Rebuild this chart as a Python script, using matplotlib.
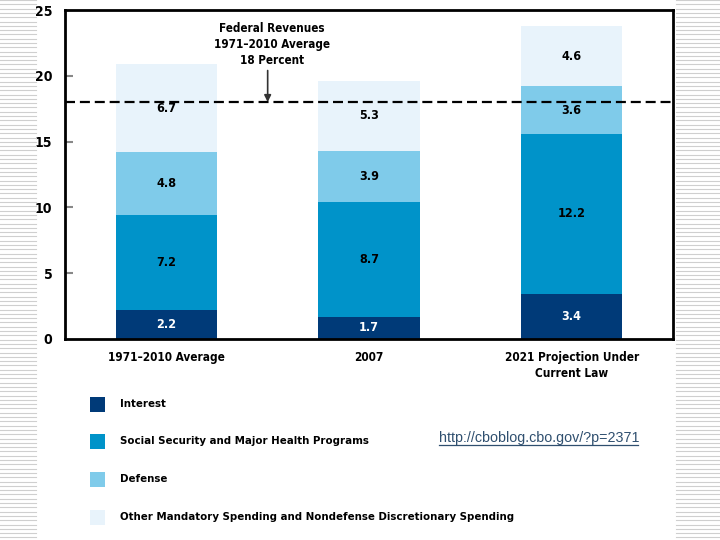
import matplotlib.pyplot as plt
import matplotlib
from matplotlib.lines import Line2D
from matplotlib.patches import Rectangle

matplotlib.rcParams['font.family'] = ['DejaVu Sans']
matplotlib.rcParams['font.stretch'] = 'condensed'

# ── data ──
categories = ['1971\u20132010 Average', '2007', '2021 Projection Under\nCurrent Law']
interest = [2.2, 1.7, 3.4]
social_health = [7.2, 8.7, 12.2]
defense = [4.8, 3.9, 3.6]
other = [6.7, 5.3, 4.6]
revenue_avg = 18

series = [
    ('Interest', interest, '#003A78', 'white'),
    ('Social Security and Major Health Programs', social_health, '#0093C9', 'black'),
    ('Defense', defense, '#7FCBEA', 'black'),
    ('Other Mandatory Spending and Nondefense Discretionary Spending', other, '#E8F3FB', 'black'),
]

fig = plt.figure(figsize=(7.2, 5.4), dpi=100)

# striped side margins
for x0, x1 in [(0, 36 / 720), (676 / 720, 1.0)]:
    y = 1.0
    while y > 0:
        fig.add_artist(Line2D([x0, x1], [y, y], color='#cfcfcf', linewidth=0.8))
        y -= 4.3 / 540

ax = fig.add_axes([65 / 720, (540 - 339) / 540, (673 - 65) / 720, (339 - 10) / 540])

x = range(len(categories))
bottom = [0] * len(categories)
for name, vals, color, tcolor in series:
    ax.bar(x, vals, 0.5, bottom=bottom, color=color, edgecolor='none', label=name)
    for i, v in enumerate(vals):
        ax.text(i, bottom[i] + v / 2, f'{v:.1f}', ha='center', va='center',
                fontsize=9, fontweight='bold', color=tcolor)
    bottom = [b + v for b, v in zip(bottom, vals)]

ax.axhline(revenue_avg, color='black', linestyle=(0, (4.5, 2.2)), linewidth=1.6)
ax.annotate('', xy=(0.5, revenue_avg), xytext=(0.5, 20.4),
            arrowprops=dict(arrowstyle='-|>', color='#333333', lw=1.2,
                            shrinkA=0, shrinkB=0, mutation_scale=10))
ax.text(0.52, 22.4, 'Federal Revenues\n1971\u20132010 Average\n18 Percent',
        ha='center', va='center', fontsize=8.4, fontweight='bold', linespacing=1.3)

ax.set_xlim(-0.5, 2.5)
ax.set_ylim(0, 25)
ax.set_yticks([0, 5, 10, 15, 20, 25])
ax.set_xticks(list(x))
ax.set_xticklabels(categories, fontsize=8.5, fontweight='bold', linespacing=1.3)
ax.tick_params(axis='y', direction='in', length=6, color='#888888', width=1.5,
               pad=9, labelsize=10)
for lbl in ax.get_yticklabels():
    lbl.set_fontweight('bold')
ax.tick_params(axis='x', length=0, pad=8.5)
for s in ax.spines.values():
    s.set_linewidth(2)
ax.yaxis.get_major_ticks()[0].tick1line.set_visible(False)
ax.yaxis.get_major_ticks()[-1].tick1line.set_visible(False)

# legend drawn as rows of squares below the chart
leg_y = [404, 441, 479, 517]
for (name, vals, color, tcolor), yy in zip(series, leg_y):
    fig.add_artist(Rectangle((90 / 720, (540 - yy - 7.5) / 540), 15 / 720, 15 / 540,
                             facecolor=color, edgecolor='none'))
    fig.text(120 / 720, (540 - yy) / 540, name, ha='left', va='center',
             fontsize=8.2, fontweight='bold')

fig.text(439 / 720, (540 - 438) / 540, 'http://cboblog.cbo.gov/?p=2371',
         ha='left', va='center', fontsize=10.3, color='#2F4F6F',
         family=['Liberation Sans', 'DejaVu Sans'], stretch='normal')
fig.add_artist(Line2D([439 / 720, 638 / 720], [(540 - 445) / 540] * 2,
                      color='#2F4F6F', linewidth=0.9))

fig.savefig('out.png', dpi=100)
plt.close()
